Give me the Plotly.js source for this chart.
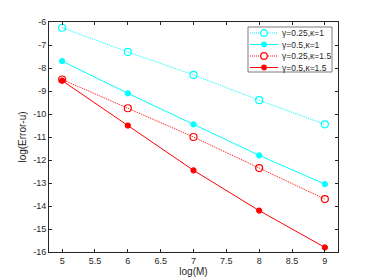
<!DOCTYPE html>
<html><head><meta charset="utf-8">
<script src="https://cdn.plot.ly/plotly-3.0.1.min.js"></script>
<style>body{margin:0;background:#fff}#c{width:374px;height:280px}</style>
</head><body><div id="c"></div>
<script>
const logM = [5, 6, 7, 8, 9];
const s1 = [-6.25, -7.3, -8.3, -9.4, -10.45];
const s2 = [-7.7, -9.1, -10.45, -11.8, -13.05];
const s3 = [-8.5, -9.75, -11.0, -12.35, -13.7];
const s4 = [-8.55, -10.5, -12.45, -14.2, -15.8];
const names = ['γ=0.25,κ=1', 'γ=0.5,κ=1', 'γ=0.25,κ=1.5', 'γ=0.5,κ=1.5'];
const colors = ['#00ffff', '#00ffff', '#ff0000', '#ff0000'];
const dashes = ['1px,1px', 'solid', '1px,1px', 'solid'];
const openM = [true, false, true, false];
const series = [s1, s2, s3, s4];
const xticks = [5, 5.5, 6, 6.5, 7, 7.5, 8, 8.5, 9];
const yticks = [-16, -15, -14, -13, -12, -11, -10, -9, -8, -7, -6];

const data = series.map((y, i) => ({x: logM, y: y, name: names[i], type: 'scatter', mode: 'lines+markers', showlegend: false,
  line: {color: colors[i], width: 1, dash: dashes[i]},
  marker: {symbol: openM[i] ? 'circle-open' : 'circle', size: openM[i] ? 7 : 5, color: colors[i], line: {color: colors[i], width: 1.2}}}));

// custom compact legend (plot-area geometry: x 49..338, y 22..252)
const W = 289, H = 230, L = 49, B = 252;
const px = v => (v - L) / W, py = v => (B - v) / H;
const shapes = [{type: 'rect', xref: 'paper', yref: 'paper', x0: px(248), x1: px(332), y0: py(72), y1: py(27),
  fillcolor: '#fff', line: {color: '#262626', width: 0.6}}];
const annotations = [];
names.forEach((n, i) => {
  const yy = 33 + i * 11.5;
  shapes.push({type: 'line', xref: 'paper', yref: 'paper', x0: px(250), x1: px(278), y0: py(yy), y1: py(yy),
    line: {color: colors[i], width: 1, dash: dashes[i]}});
  const r = openM[i] ? 3.3 : 2.3;
  shapes.push({type: 'circle', xref: 'paper', yref: 'paper', xsizemode: 'pixel', ysizemode: 'pixel',
    xanchor: px(264), yanchor: py(yy), x0: -r, x1: r, y0: -r, y1: r,
    fillcolor: openM[i] ? '#fff' : colors[i], line: {color: colors[i], width: 1.2}});
  annotations.push({xref: 'paper', yref: 'paper', x: px(280), y: py(yy), xanchor: 'left', yanchor: 'middle',
    text: n, showarrow: false, font: {family: 'Liberation Sans, Arial', size: 8.5, color: '#262626'}});
});

const ax = {showline: true, mirror: 'ticks', linecolor: '#262626', linewidth: 1, ticks: 'inside', ticklen: 3, tickcolor: '#262626',
  showgrid: false, zeroline: false, tickfont: {family: 'Liberation Sans, Arial', size: 9, color: '#262626'}};
const layout = {
  width: 374, height: 280, margin: {l: 49, r: 36, t: 22, b: 28},
  paper_bgcolor: '#fff', plot_bgcolor: '#fff', showlegend: false,
  font: {family: 'Liberation Sans, Arial', size: 9, color: '#262626'},
  xaxis: Object.assign({}, ax, {range: [4.8, 9.2], tickvals: xticks, ticktext: xticks.map(String),
    title: {text: 'log(M)', font: {size: 10, color: '#262626'}, standoff: 2}}),
  yaxis: Object.assign({}, ax, {range: [-16, -6], tickvals: yticks, ticktext: yticks.map(String),
    title: {text: 'log(Error-u)', font: {size: 10, color: '#262626'}, standoff: 4}}),
  shapes: shapes, annotations: annotations
};
Plotly.newPlot('c', data, layout, {displayModeBar: false, staticPlot: true});
</script></body></html>
